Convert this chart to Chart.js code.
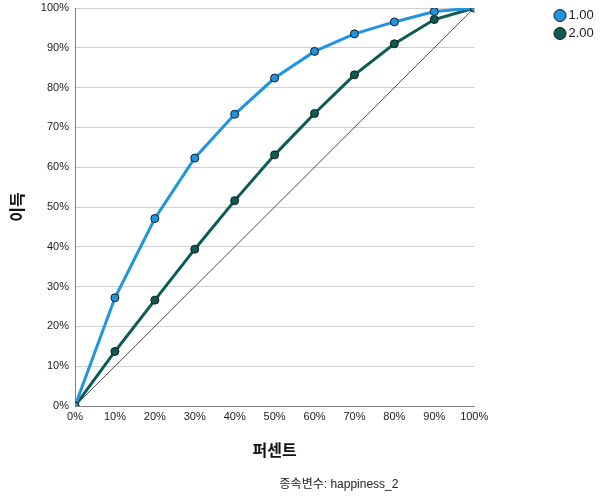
<!DOCTYPE html>
<html>
<head>
<meta charset="utf-8">
<script src="https://cdn.jsdelivr.net/npm/chart.js@4"></script>
<style>
  html, body { margin: 0; padding: 0; background: #fff; }
  #wrap { width: 605px; height: 503px; }
</style>
</head>
<body>
<div id="wrap"><canvas id="c" width="605" height="503"></canvas></div>
<script>
const percents = [0, 10, 20, 30, 40, 50, 60, 70, 80, 90, 100];
const gain1 = [0, 27.2, 47.1, 62.3, 73.3, 82.4, 89.1, 93.5, 96.5, 99.1, 100];
const gain2 = [0, 13.7, 26.6, 39.4, 51.6, 63.1, 73.5, 83.2, 91.0, 97.1, 100];
const seriesNames = ['1.00', '2.00'];
const baseline = [0, 100];
const xTitle = '퍼센트';
const yTitle = '이득';
const footnote = '종속변수: happiness_2';

const colors = ['#1f94e0', '#0d5b55'];
const fontFam = "'Liberation Sans', Arial, 'Noto Sans CJK KR', sans-serif";
const krFam = "'Noto Sans CJK KR', 'Liberation Sans', sans-serif";

const toPts = (xs, ys) => xs.map((x, i) => ({x: x, y: ys[i]}));

const legendShift = {
  id: 'legendShift',
  afterLayout(chart) {
    const L = chart.legend;
    if (!L) return;
    const dx = 553 - L.left;
    L.left += dx; L.right += dx;
    const dy = 4 - L.top;
    L.top += dy; L.bottom += dy;
  }
};

const footnotePlugin = {
  id: 'footnote',
  afterDraw(chart) {
    const ctx = chart.ctx;
    ctx.save();
    ctx.font = "12px " + fontFam;
    ctx.fillStyle = '#222';
    ctx.textAlign = 'center';
    ctx.textBaseline = 'middle';
    ctx.fillText(footnote, 339, 485);
    ctx.restore();
  }
};

new Chart(document.getElementById('c'), {
  type: 'scatter',
  data: {
    datasets: [
      {
        label: seriesNames[0],
        data: toPts(percents, gain1),
        showLine: true,
        borderColor: colors[0],
        backgroundColor: colors[0],
        borderWidth: 3,
        pointRadius: 4,
        pointBackgroundColor: colors[0],
        pointBorderColor: '#1a1a1a',
        pointBorderWidth: 1,
        tension: 0,
        order: 1
      },
      {
        label: seriesNames[1],
        data: toPts(percents, gain2),
        showLine: true,
        borderColor: colors[1],
        backgroundColor: colors[1],
        borderWidth: 3,
        pointRadius: 4,
        pointBackgroundColor: colors[1],
        pointBorderColor: '#1a1a1a',
        pointBorderWidth: 1,
        tension: 0,
        order: 2
      },
      {
        label: 'baseline',
        data: toPts(baseline, baseline),
        showLine: true,
        borderColor: '#222',
        borderWidth: 0.8,
        pointRadius: 0,
        order: 3
      }
    ]
  },
  options: {
    responsive: false,
    animation: false,
    layout: { padding: { top: 8, right: 80, bottom: 0, left: 0 } },
    plugins: {
      tooltip: { enabled: false },
      legend: {
        position: 'right',
        align: 'start',
        labels: {
          usePointStyle: true,
          boxWidth: 4,
          boxHeight: 8.5,
          padding: 5,
          color: '#222',
          font: { size: 13, family: fontFam },
          generateLabels(chart) {
            return chart.data.datasets.slice(0, 2).map((ds, i) => ({
              text: ds.label,
              fillStyle: colors[i],
              strokeStyle: '#1a1a1a',
              lineWidth: 1,
              pointStyle: 'circle',
              fontColor: '#222',
              datasetIndex: i
            }));
          }
        }
      }
    },
    scales: {
      x: {
        type: 'linear',
        min: 0, max: 100,
        afterFit(s) { s.height = 97; },
        ticks: {
          stepSize: 10,
          padding: 4,
          color: '#222',
          font: { size: 11, family: fontFam },
          callback: v => v + '%'
        },
        grid: { display: false, drawTicks: false },
        border: { display: true, color: '#808080', width: 1 },
        title: {
          display: true,
          text: xTitle,
          color: '#111',
          font: { size: 16, weight: 'bold', family: krFam },
          padding: { top: 0, bottom: 43 }
        }
      },
      y: {
        type: 'linear',
        min: 0, max: 100,
        afterFit(s) { s.width = 75; s.paddingTop = 0; s.paddingBottom = 0; },
        ticks: {
          stepSize: 10,
          padding: 6,
          color: '#222',
          font: { size: 11, family: fontFam },
          callback: v => v + '%'
        },
        grid: { color: '#d0d0d0', lineWidth: 1, drawTicks: false },
        border: { display: true, color: '#808080', width: 1 },
        title: {
          display: true,
          text: yTitle,
          color: '#111',
          font: { size: 16, weight: 'bold', family: krFam },
          padding: { top: 7, bottom: 0 }
        }
      }
    }
  },
  plugins: [legendShift, footnotePlugin]
});
</script>
</body>
</html>
